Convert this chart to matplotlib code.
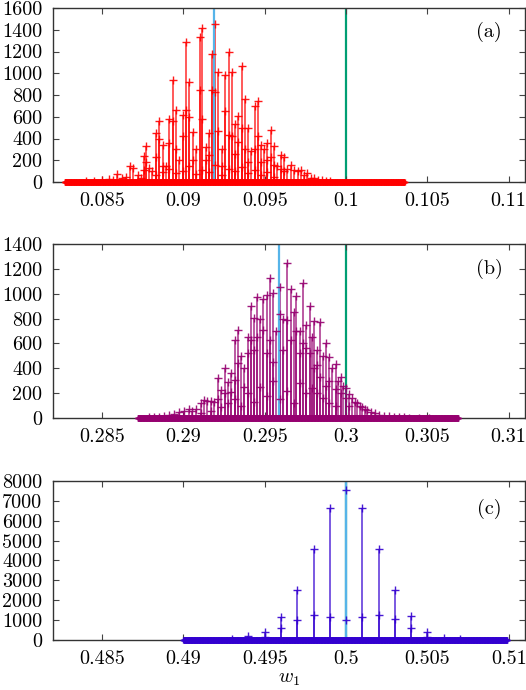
import numpy as np
import matplotlib
matplotlib.use("Agg")
import matplotlib.pyplot as plt

plt.rcParams['font.family'] = 'serif'
plt.rcParams['font.serif'] = ['cmr10', 'DejaVu Serif']
plt.rcParams['mathtext.fontset'] = 'cm'
plt.rcParams['axes.unicode_minus'] = False
plt.rcParams['axes.formatter.use_mathtext'] = True

# ---------------- panel (a) ----------------
xa_top = [0.08400, 0.08450, 0.08500, 0.08540, 0.08570, 0.08591, 0.08620, 0.08650, 0.08673, 0.08690,
          0.08720, 0.08740, 0.08755, 0.08771, 0.08791, 0.08810, 0.08833, 0.08853, 0.08873, 0.08893,
          0.08914, 0.08934, 0.08955, 0.08975, 0.08996, 0.09016, 0.09037, 0.09057, 0.09077, 0.09100,
          0.09117, 0.09137, 0.09160, 0.09178, 0.09196, 0.09215, 0.09237, 0.09258, 0.09278, 0.09296,
          0.09316, 0.09337, 0.09358, 0.09379, 0.09399, 0.09417, 0.09438, 0.09458, 0.09478, 0.09498,
          0.09517, 0.09538, 0.09556, 0.09578, 0.09600, 0.09620, 0.09640, 0.09662, 0.09682, 0.09702,
          0.09722, 0.09742, 0.09762, 0.09782, 0.09802, 0.09825, 0.09850, 0.09875, 0.09900]
ya_top = [8, 12, 18, 30, 20, 71, 35, 45, 150, 131,
          60, 40, 240, 334, 126, 100, 453, 561, 340, 150,
          580, 938, 662, 200, 616, 1290, 922, 462, 300, 1336,
          1413, 320, 448, 1174, 1450, 1014, 300, 984, 1192, 1008,
          530, 607, 1070, 760, 499, 285, 699, 744, 340, 300,
          356, 478, 331, 150, 248, 233, 120, 160, 110, 100,
          110, 60, 80, 40, 35, 20, 15, 8, 5]
xa_sec = [0.08755, 0.08771, 0.08833, 0.08853, 0.08873, 0.08914, 0.08934, 0.08955, 0.08996, 0.09016,
          0.09037, 0.09057, 0.09100, 0.09117, 0.09137, 0.09160, 0.09178, 0.09196, 0.09215, 0.09237,
          0.09258, 0.09278, 0.09296, 0.09316, 0.09337, 0.09358, 0.09379, 0.09399, 0.09438, 0.09458,
          0.09478, 0.09517, 0.09538, 0.09556, 0.09600, 0.09620]
ya_sec = [110, 180, 230, 400, 150, 360, 560, 300, 420, 660,
          600, 200, 846, 580, 200, 250, 846, 830, 470, 150,
          650, 430, 420, 260, 370, 500, 300, 180, 300, 420,
          180, 200, 230, 160, 120, 100]
xa_ter = [0.08833, 0.08873, 0.08914, 0.08955, 0.08996, 0.09037, 0.09077, 0.09117, 0.09160, 0.09196,
          0.09237, 0.09278, 0.09316, 0.09358, 0.09399, 0.09438, 0.09478, 0.09517, 0.09556]
ya_ter = [60, 90, 120, 80, 100, 150, 70, 110, 90, 160, 60, 120, 100, 140, 80, 110, 60, 90, 50]
bins_a = (0.0827, 0.1036)
ref_a = (0.0919, 0.1)

# ---------------- panel (b) ----------------
xb_top = [0.28791, 0.28822, 0.28853, 0.28883, 0.28914, 0.28945, 0.28975, 0.29006, 0.29037, 0.29055,
          0.29080, 0.29110, 0.29129, 0.29147, 0.29172, 0.29190, 0.29212, 0.29233, 0.29255, 0.29276,
          0.29294, 0.29316, 0.29337, 0.29356, 0.29374, 0.29396, 0.29415, 0.29436, 0.29454, 0.29472,
          0.29491, 0.29511, 0.29534, 0.29552, 0.29571, 0.29593, 0.29614, 0.29635, 0.29661, 0.29678,
          0.29695, 0.29715, 0.29733, 0.29755, 0.29777, 0.29791, 0.29804, 0.29822, 0.29839, 0.29856,
          0.29875, 0.29896, 0.29914, 0.29937, 0.29951, 0.29968, 0.29982, 0.29998, 0.30018, 0.30039,
          0.30055, 0.30069, 0.30086, 0.30100, 0.30117, 0.30131, 0.30153, 0.30178, 0.30202, 0.30233,
          0.30264, 0.30294, 0.30325, 0.30356, 0.30387, 0.30448, 0.30509]
yb_top = [5, 8, 12, 18, 25, 35, 45, 55, 75, 60,
          70, 118, 145, 140, 140, 130, 319, 225, 400, 290,
          360, 628, 708, 500, 400, 654, 901, 802, 971, 797,
          960, 990, 1129, 1003, 700, 1057, 800, 1245, 1035, 850,
          982, 700, 1089, 750, 901, 650, 780, 550, 775, 500,
          606, 493, 400, 432, 300, 332, 260, 239, 193, 158,
          130, 118, 100, 91, 75, 64, 50, 38, 28, 20,
          14, 10, 7, 5, 4, 3, 2]
xb_sec = [0.29212, 0.29255, 0.29294, 0.29316, 0.29337, 0.29374, 0.29396, 0.29415, 0.29436, 0.29454,
          0.29491, 0.29511, 0.29534, 0.29552, 0.29593, 0.29614, 0.29635, 0.29661, 0.29695, 0.29715,
          0.29733, 0.29755, 0.29777, 0.29804, 0.29822, 0.29839, 0.29875, 0.29896, 0.29937, 0.29968,
          0.29998, 0.30018]
yb_sec = [150, 200, 212, 306, 440, 250, 520, 628, 547, 654,
          708, 520, 628, 450, 837, 547, 788, 628, 700, 520,
          600, 560, 520, 400, 430, 330, 260, 300, 230, 200,
          160, 100]
xb_ter = [0.29110, 0.29172, 0.29233, 0.29276, 0.29316, 0.29356, 0.29396, 0.29436, 0.29472, 0.29511,
          0.29552, 0.29593, 0.29635, 0.29678, 0.29715, 0.29755, 0.29791, 0.29822, 0.29856, 0.29896,
          0.29937]
yb_ter = [40, 60, 90, 120, 150, 100, 200, 130, 250, 180, 300, 150, 220, 120, 280, 200, 240, 200,
          160, 120, 100]
bins_b = (0.2872, 0.3069)
ref_b = (0.2959, 0.3)

# ---------------- panel (c) ----------------
xc_top = [0.493, 0.494, 0.495, 0.496, 0.497, 0.498, 0.499, 0.500, 0.501, 0.502, 0.503, 0.504, 0.505, 0.506, 0.507]
yc_top = [60, 220, 420, 1170, 2520, 4560, 6650, 7550, 6650, 4560, 2540, 1200, 420, 100, 30]
xc_sec = [0.495, 0.496, 0.497, 0.498, 0.499, 0.500, 0.501, 0.502, 0.503, 0.504, 0.505]
yc_sec = [150, 620, 1020, 1260, 1170, 1020, 1170, 1260, 1040, 620, 150]
xc_ter = []
yc_ter = []
bins_c = (0.4900, 0.5099)
ref_c = (0.5, 0.5)

# axis ticks / labels
xt_a = [0.085, 0.09, 0.095, 0.1, 0.105, 0.11]
xl_a = ['0.085', '0.09', '0.095', '0.1', '0.105', '0.11']
xt_b = [0.285, 0.29, 0.295, 0.3, 0.305, 0.31]
xl_b = ['0.285', '0.29', '0.295', '0.3', '0.305', '0.31']
xt_c = [0.485, 0.49, 0.495, 0.5, 0.505, 0.51]
xl_c = ['0.485', '0.49', '0.495', '0.5', '0.505', '0.51']
yt_a = [0, 200, 400, 600, 800, 1000, 1200, 1400, 1600]
yt_b = [0, 200, 400, 600, 800, 1000, 1200, 1400]
yt_c = [0, 1000, 2000, 3000, 4000, 5000, 6000, 7000, 8000]

FS = 14.5
fig = plt.figure(figsize=(5.26, 6.90), dpi=100)


def panel(rect, xlim, ylim, xt, xl, yt, xs, ys, bins, ref, color, label, lab_y):
    ax = fig.add_axes(rect)
    ax.set_xlim(*xlim)
    ax.set_ylim(*ylim)
    # reference lines
    ax.axvline(ref[1], color='#009e73', lw=1.6, zorder=1)
    ax.axvline(ref[0], color='#56b4e9', lw=1.6, zorder=2.2)
    # zero bins (thick baseline)
    xz = np.linspace(bins[0], bins[1], 1500)
    ax.plot(xz, np.zeros_like(xz), ls='none', marker='+', ms=5.0, mew=1.0,
            color=color, alpha=0.9, clip_on=False, zorder=3)
    ax.plot([bins[0], bins[1]], [0, 0], color=color, lw=3.2, solid_capstyle='butt',
            clip_on=False, zorder=3)
    for x, y in zip(xs, ys):
        if len(x) == 0:
            continue
        ax.vlines(x, 0, y, color=color, lw=1.3, alpha=0.7, zorder=2)
        ax.plot(x, y, ls='none', marker='+', ms=6, mew=1.0, color=color, alpha=0.9, zorder=2.5)
    ax.set_xticks(xt)
    ax.set_xticklabels(xl)
    ax.set_yticks(yt)
    ax.set_yticklabels([str(v) for v in yt])
    ax.tick_params(direction='in', top=True, right=True, length=4, width=0.8,
                   labelsize=FS, color='#444444')
    ax.tick_params(axis='y', pad=8)
    ax.tick_params(axis='x', pad=7)
    for s in ax.spines.values():
        s.set_linewidth(1.0)
        s.set_color('#333333')
    ax.text(0.924, lab_y, label, transform=ax.transAxes, ha='center', va='center',
            fontsize=FS)
    return ax


axa = panel([0.1013, 0.7362, 0.8967, 0.2522], (0.082, 0.111), (0, 1600), xt_a, xl_a, yt_a,
            [xa_top, xa_sec, xa_ter], [ya_top, ya_sec, ya_ter], bins_a, ref_a,
            '#ff0000', '(a)', 0.865)
axb = panel([0.1013, 0.3942, 0.8967, 0.2522], (0.282, 0.311), (0, 1400), xt_b, xl_b, yt_b,
            [xb_top, xb_sec, xb_ter], [yb_top, yb_sec, yb_ter], bins_b, ref_b,
            '#960070', '(b)', 0.856)
axc = panel([0.1013, 0.0725, 0.8967, 0.2304], (0.482, 0.511), (0, 8000), xt_c, xl_c, yt_c,
            [xc_top, xc_sec, xc_ter], [yc_top, yc_sec, yc_ter], bins_c, ref_c,
            '#3300d0', '(c)', 0.827)
axc.set_xlabel('$w_1$', fontsize=FS, labelpad=2)

fig.savefig('out.png', dpi=100)
